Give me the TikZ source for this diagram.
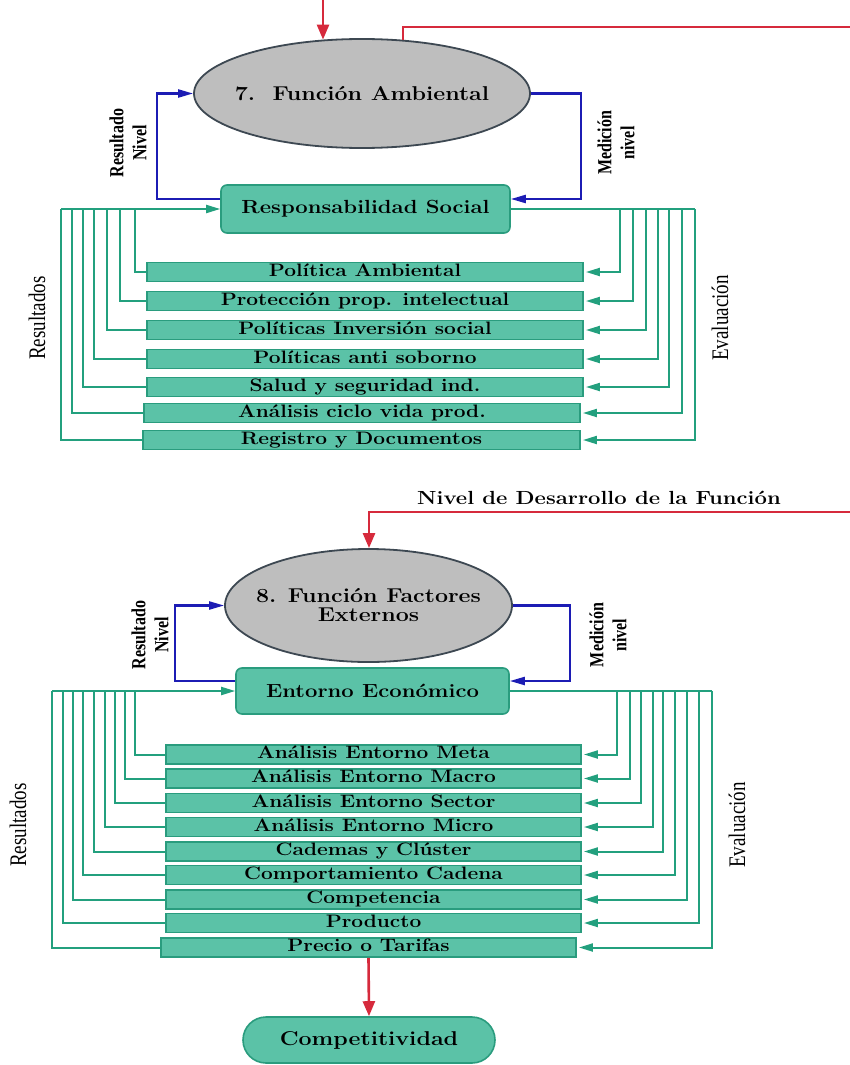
\documentclass[tikz,border=0pt]{standalone}
\usepackage{fontspec}
\usepackage{graphicx}
\newfontfamily\labelfont{Liberation Serif}
\usetikzlibrary{arrows.meta,shapes.geometric}

\definecolor{boxfill}{HTML}{5BC2A7}
\definecolor{boxedge}{HTML}{2A9C7E}
\definecolor{flowgreen}{HTML}{23A07E}
\definecolor{ovalfill}{HTML}{BEBEBE}
\definecolor{ovaledge}{HTML}{3D4852}
\definecolor{loopblue}{HTML}{1C1CB4}
\definecolor{mainred}{HTML}{D62A3C}

% wide bold lettering used in boxes and ovals
\newcommand{\widetxt}[1]{\scalebox{1.16}[1]{#1}}
\newcommand{\ovaltxt}[1]{\makebox[0pt]{\widetxt{#1}}}
% tall lettering for the rotated side labels
\newcommand{\tallrot}[1]{\scalebox{1}[1.25]{#1}}

\begin{document}
\begin{tikzpicture}[x=1pt,y=-1pt,
  ovalnode/.style={ellipse, draw=ovaledge, fill=ovalfill, line width=1.8pt,
    inner sep=0pt, align=center, font=\fontsize{20}{19}\selectfont\bfseries},
  mainbox/.style={rectangle, rounded corners=6pt, draw=boxedge, fill=boxfill,
    line width=1.6pt, inner sep=0pt, font=\fontsize{19}{21}\selectfont\bfseries},
  itembar/.style={rectangle, draw=boxedge, fill=boxfill, line width=1.8pt,
    inner sep=0pt, minimum height=19pt, text height=12pt, text depth=3.5pt,
    font=\fontsize{18}{20}\selectfont\bfseries},
  endoval/.style={rectangle, rounded corners=23pt, draw=boxedge, fill=boxfill,
    line width=1.6pt, inner sep=0pt, minimum width=252pt, minimum height=46pt,
    font=\fontsize{20}{22}\selectfont\bfseries},
  flowline/.style={draw=flowgreen, line width=2pt},
  flowarrow/.style={flowline, -{Triangle[length=14pt,width=8pt]}},
  loopline/.style={draw=loopblue, line width=2.2pt, -{Triangle[length=15pt,width=8pt]}},
  redline/.style={draw=mainred, line width=2.6pt},
  redarrow/.style={redline, -{Triangle[length=15pt,width=12pt]}},
  looplabel/.style={rotate=90, align=center, inner sep=0pt,
    font=\labelfont\bfseries\fontsize{16}{23}\selectfont},
  sidelabel/.style={rotate=90, inner sep=0pt,
    font=\labelfont\fontsize{19}{21}\selectfont},
  toplabel/.style={inner sep=0pt, font=\fontsize{19}{21}\selectfont\bfseries}
]
\useasboundingbox (0,0) rectangle (850,1065);

%% ---------------- Function 7 ----------------
\node[ovalnode, minimum width=336pt, minimum height=109pt] (E7) at (362,93.5)
  {\ovaltxt{7.~~Función Ambiental}};
\node[mainbox, minimum width=289pt, minimum height=48pt] (RS) at (365.5,209)
  {\widetxt{Responsabilidad Social}};

\node[itembar, minimum width=436pt] (a1) at (365,272)   {\widetxt{Política Ambiental}};
\node[itembar, minimum width=436pt] (a2) at (365,301)   {\widetxt{Protección prop. intelectual}};
\node[itembar, minimum width=436pt] (a3) at (365,330)   {\widetxt{Políticas Inversión social}};
\node[itembar, minimum width=436pt] (a4) at (365,359)   {\widetxt{Políticas anti soborno}};
\node[itembar, minimum width=436pt] (a5) at (365,387)   {\widetxt{Salud y seguridad ind.}};
\node[itembar, minimum width=436pt] (a6) at (362,413)   {\widetxt{Análisis ciclo vida prod.}};
\node[itembar, minimum width=437pt] (a7) at (361.5,440) {\widetxt{Registro y Documentos}};

% incoming development level and outgoing level
\coordinate (rin7) at (323,0);
\draw[redarrow] (rin7) -- (rin7 |- E7.126.4);
\coordinate (rturn7) at (403,27);
\coordinate (redge7) at (850,27);
\draw[redline] (rturn7 |- E7.52.3) -- (rturn7) -- (redge7);

% measurement loop
\coordinate (bl7) at (157,93.5);
\coordinate (br7) at (581,93.5);
\draw[loopline] ([yshift=10pt]RS.west) -| (bl7) -- (E7.west);
\draw[loopline] (E7.east) -- (br7) |- ([yshift=10pt]RS.east);

% results (left) and evaluation (right)
\foreach \i/\x in {1/135,2/120,3/107,4/94,5/83,6/72,7/61}{
  \coordinate (la\i) at (\x,209);
  \draw[flowline] (a\i.west) -| (la\i);
}
\draw[flowarrow] (la7) -- (RS.west);
\foreach \i/\x in {1/620,2/633,3/646,4/658,5/669,6/682,7/695}{
  \coordinate (ra\i) at (\x,209);
  \draw[flowarrow, shorten >=2pt] (ra\i) |- (a\i.east);
}
\draw[flowline] (RS.east) -- (ra7);

\node[looplabel] (lr7) at (128,143) {\tallrot{Resultado}\\\tallrot{Nivel}};
\node[looplabel] (lm7) at (616,143) {\tallrot{Medición}\\\tallrot{nivel}};
\node[sidelabel] (sr7) at (37,318)  {\tallrot{Resultados}};
\node[sidelabel] (se7) at (720,318) {\tallrot{Evaluación}};

%% ---------------- Function 8 ----------------
\node[toplabel] (lvl) at (599,498) {\widetxt{Nivel de Desarrollo de la Función}};

\node[ovalnode, minimum width=287pt, minimum height=113pt] (E8) at (368.5,605.5)
  {\ovaltxt{8. Función Factores}\\\ovaltxt{Externos}};
\node[mainbox, minimum width=273pt, minimum height=46pt] (EE) at (372.5,691)
  {\widetxt{Entorno Económico}};

\node[itembar, minimum width=415pt] (b1) at (373.5,754.5) {\widetxt{Análisis Entorno Meta}};
\node[itembar, minimum width=415pt] (b2) at (373.5,778.5) {\widetxt{Análisis Entorno Macro}};
\node[itembar, minimum width=415pt] (b3) at (373.5,803)   {\widetxt{Análisis Entorno Sector}};
\node[itembar, minimum width=415pt] (b4) at (373.5,827)   {\widetxt{Análisis Entorno Micro}};
\node[itembar, minimum width=415pt] (b5) at (373.5,851.5) {\widetxt{Cademas y Clúster}};
\node[itembar, minimum width=415pt] (b6) at (373.5,875)   {\widetxt{Comportamiento Cadena}};
\node[itembar, minimum width=415pt] (b7) at (373.5,899.5) {\widetxt{Competencia}};
\node[itembar, minimum width=415pt] (b8) at (373.5,923)   {\widetxt{Producto}};
\node[itembar, minimum width=415pt] (b9) at (368.5,947.5) {\widetxt{Precio o Tarifas}};

\node[endoval] (CP) at (369,1040) {\widetxt{Competitividad}};

% development level entering function 8
\coordinate (redge8) at (850,512);
\coordinate (rturn8) at (369,512);
\draw[redarrow] (redge8) -- (rturn8) -- (rturn8 |- E8.north);

% measurement loop
\coordinate (bl8) at (175,605.5);
\coordinate (br8) at (570,605.5);
\draw[loopline] ([yshift=10pt]EE.west) -| (bl8) -- (E8.west);
\draw[loopline] (E8.east) -- (br8) |- ([yshift=10pt]EE.east);

% results (left) and evaluation (right)
\foreach \i/\x in {1/135,2/125,3/115,4/105,5/94,6/83,7/73,8/63,9/52}{
  \coordinate (lb\i) at (\x,691);
  \draw[flowline] (b\i.west) -| (lb\i);
}
\draw[flowarrow] (lb9) -- (EE.west);
\foreach \i/\x in {1/617,2/630,3/641,4/653,5/663,6/675,7/687,8/699,9/712}{
  \coordinate (rb\i) at (\x,691);
  \draw[flowarrow, shorten >=2pt] (rb\i) |- (b\i.east);
}
\draw[flowline] (EE.east) -- (rb9);

% outcome
\draw[redarrow] (b9.south) -- (CP.north);

\node[looplabel] (lr8) at (150,635) {\tallrot{Resultado}\\\tallrot{Nivel}};
\node[looplabel] (lm8) at (608,635) {\tallrot{Medición}\\\tallrot{nivel}};
\node[sidelabel] (sr8) at (18,825)  {\tallrot{Resultados}};
\node[sidelabel] (se8) at (737,825) {\tallrot{Evaluación}};
\end{tikzpicture}
\end{document}
